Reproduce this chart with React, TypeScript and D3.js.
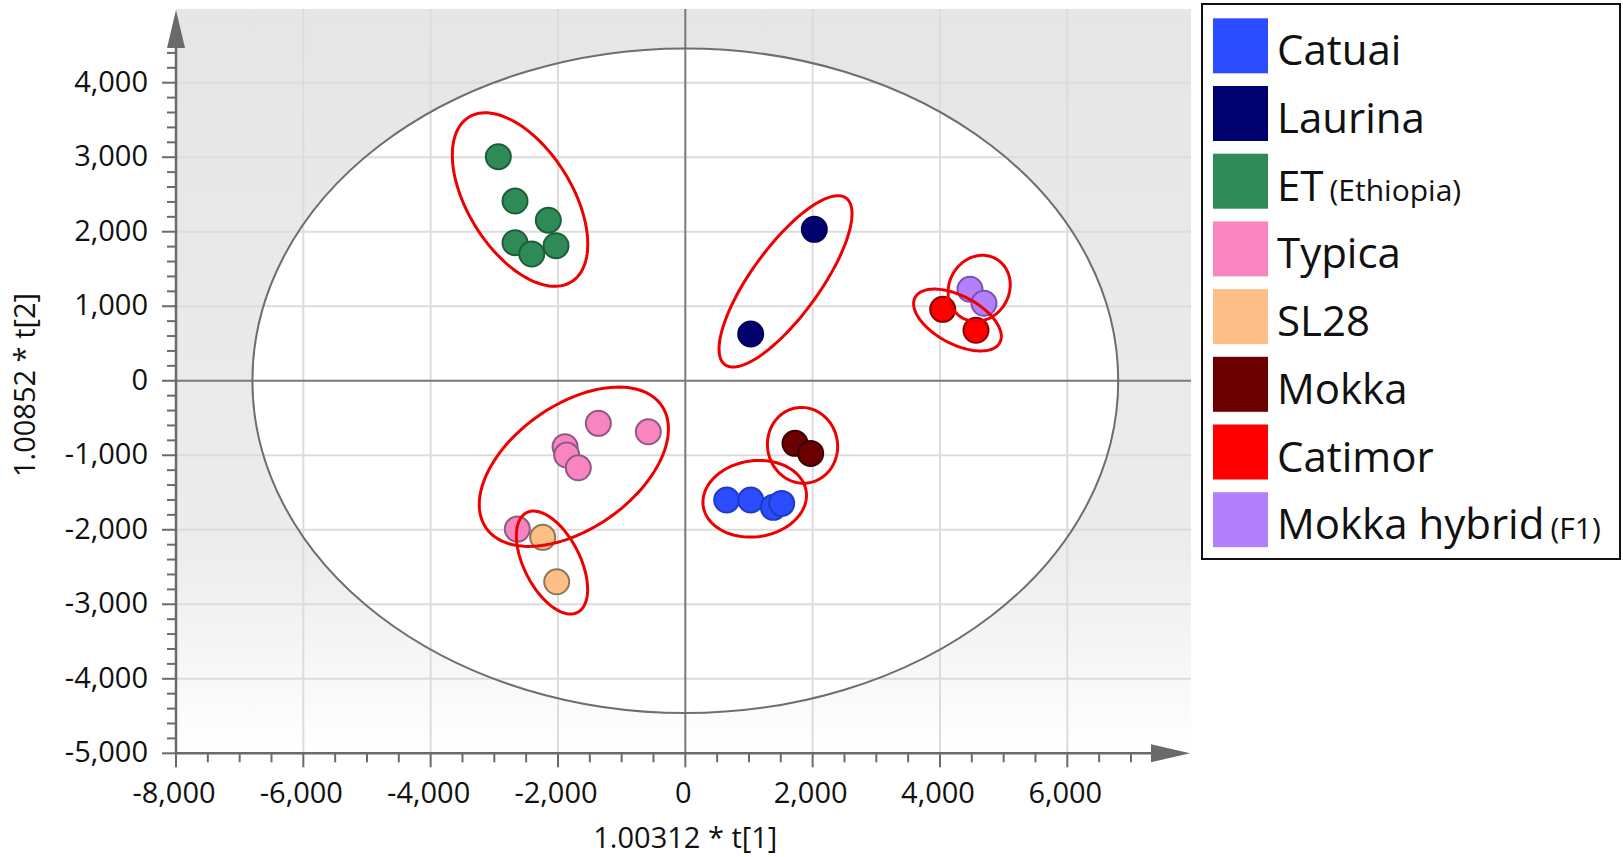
import React from "react";
import * as d3 from "d3";

// ---------- data ----------
const groupNames = ["Catuai", "Laurina", "ET", "Typica", "SL28", "Mokka", "Catimor", "Mokka hybrid"];
const groupSuffix = ["", "", "(Ethiopia)", "", "", "", "", "(F1)"];
const groupFill = ["#2b4cff", "#00006e", "#2e8b57", "#f884c0", "#fdbf87", "#6b0000", "#ff0000", "#b47ffb"];
const groupStroke = ["#1f3bc8", "#00005a", "#1f5c3a", "#8e5a85", "#8f7656", "#3d0000", "#8b0000", "#7a52b5"];

const catuaiX = [650, 1027, 1382, 1514];
const catuaiY = [-1601, -1601, -1699, -1646];
const laurinaX = [2026, 1027];
const laurinaY = [2032, 627];
const etX = [-2937, -2675, -2152, -2675, -2412, -2031];
const etY = [3007, 2412, 2155, 1852, 1701, 1812];
const typicaX = [-1366, -581, -1889, -1863, -1681, -2639];
const typicaY = [-572, -685, -886, -997, -1168, -1991];
const sl28X = [-2240, -2020];
const sl28Y = [-2102, -2698];
const mokkaX = [1723, 1969];
const mokkaY = [-840, -975];
const catimorX = [4043, 4566];
const catimorY = [958, 677];
const hybridX = [4471, 4691];
const hybridY = [1227, 1039];

const seriesX = [catuaiX, laurinaX, etX, typicaX, sl28X, mokkaX, catimorX, hybridX];
const seriesY = [catuaiY, laurinaY, etY, typicaY, sl28Y, mokkaY, catimorY, hybridY];

// group-outline ellipses: centre (data units), semi-axes (px), rotation (deg)
const clusterCx = [-2596, -1751, -2094, 1574, 4616, 4275, 1841, 1090];
const clusterCy = [2432, -1154, -2440, 1334, 1240, 815, -867, -1584];
const clusterA = [97, 107, 56, 103, 34, 48, 38, 52];
const clusterB = [52, 62, 28, 34, 30, 24, 35, 38];
const clusterAngle = [58, -35, 63, -54, -60, 28, 80, -8];

// Hotelling T2 ellipse semi-axes (data units)
const t2X = 6800;
const t2Y = 4460;

const xTickValues = [-8000, -6000, -4000, -2000, 0, 2000, 4000, 6000];
const yTickValues = [-5000, -4000, -3000, -2000, -1000, 0, 1000, 2000, 3000, 4000];

// ---------- layout ----------
const W = 1623;
const H = 857;
const x = d3.scaleLinear().domain([-8000, 6000]).range([176, 1067.3]);
const y = d3.scaleLinear().domain([-5000, 4000]).range([753.3, 82.7]);
const fmt0 = d3.format(",");
const fmt = (v: number) => fmt0(v).replace("\u2212", "-");

const plotLeft = x(-8000);
const plotRight = 1191;
const plotTop = 9;
const plotBottom = y(-5000);

function ellipsePath(cx: number, cy: number, a: number, b: number, angDeg: number) {
  const th = (angDeg * Math.PI) / 180;
  const pts: [number, number][] = d3.range(0, 361, 3).map((t) => {
    const r = (t * Math.PI) / 180;
    const ex = a * Math.cos(r);
    const ey = b * Math.sin(r);
    return [cx + ex * Math.cos(th) - ey * Math.sin(th), cy + ex * Math.sin(th) + ey * Math.cos(th)];
  });
  return d3.line()(pts) + "Z";
}

const FONT = "'Open Sans', 'Noto Sans', sans-serif";

export default function App() {
  const xMinor = d3.range(-8000, 7001, 500);
  const yMinor = d3.range(-5000, 4401, 200);
  const axisColor = "#6a6a6a";

  return (
    <svg
      width={W}
      height={H}
      style={{ position: "absolute", left: 0, top: 0, background: "#fff" }}
      fontFamily={FONT}
    >
      <defs>
        <linearGradient id="bg" x1="0" y1="0" x2="0" y2="1">
          <stop offset="0" stopColor="#e6e6e6" />
          <stop offset="0.72" stopColor="#ececec" />
          <stop offset="1" stopColor="#ffffff" />
        </linearGradient>
      </defs>
      <rect x={plotLeft} y={plotTop} width={plotRight - plotLeft} height={plotBottom - plotTop} fill="url(#bg)" />
      {/* Hotelling ellipse fill */}
      <ellipse cx={x(0)} cy={y(0)} rx={x(t2X) - x(0)} ry={y(0) - y(t2Y)} fill="#ffffff" />
      {/* grid */}
      {xTickValues.filter((v) => v !== -8000 && v !== 0).map((v) => (
        <line key={"gx" + v} x1={x(v)} x2={x(v)} y1={plotTop} y2={plotBottom} stroke="#dcdcdc" strokeWidth={2} />
      ))}
      {yTickValues.filter((v) => v !== -5000 && v !== 0).map((v) => (
        <line key={"gy" + v} x1={plotLeft} x2={plotRight} y1={y(v)} y2={y(v)} stroke="#dcdcdc" strokeWidth={2} />
      ))}
      {/* zero lines */}
      <line x1={x(0)} x2={x(0)} y1={plotTop} y2={plotBottom} stroke="#7a7a7a" strokeWidth={2} />
      <line x1={plotLeft} x2={plotRight} y1={y(0)} y2={y(0)} stroke="#7a7a7a" strokeWidth={2} />
      {/* Hotelling ellipse outline */}
      <ellipse
        cx={x(0)}
        cy={y(0)}
        rx={x(t2X) - x(0)}
        ry={y(0) - y(t2Y)}
        fill="none"
        stroke="#6e6e6e"
        strokeWidth={2}
      />
      {/* points */}
      {seriesX.map((xs, gi) =>
        xs.map((xv, i) => (
          <circle
            key={gi + "-" + i}
            cx={x(xv)}
            cy={y(seriesY[gi][i])}
            r={12.5}
            fill={groupFill[gi]}
            stroke={groupStroke[gi]}
            strokeWidth={2}
          />
        ))
      )}
      {/* cluster ellipses */}
      {clusterCx.map((cx, i) => (
        <path
          key={"ce" + i}
          d={ellipsePath(x(cx), y(clusterCy[i]), clusterA[i], clusterB[i], clusterAngle[i])}
          fill="none"
          stroke="#ee0000"
          strokeWidth={3}
        />
      ))}
      {/* y axis */}
      <line x1={plotLeft} x2={plotLeft} y1={plotBottom} y2={46} stroke={axisColor} strokeWidth={2.5} />
      <path d={`M${plotLeft},10 L${plotLeft - 9},48 L${plotLeft + 9},48 Z`} fill={axisColor} />
      {yMinor.map((v) => (
        <line key={"ym" + v} x1={plotLeft - (v % 1000 === 0 ? 14 : 9)} x2={plotLeft} y1={y(v)} y2={y(v)} stroke={axisColor} strokeWidth={2} />
      ))}
      {yTickValues.map((v) => (
        <text key={"yl" + v} x={148} y={y(v) + 9} textAnchor="end" fontSize={29} fill="#111">
          {fmt(v)}
        </text>
      ))}
      {/* x axis */}
      <line x1={plotLeft} x2={1152} y1={plotBottom} y2={plotBottom} stroke={axisColor} strokeWidth={2.5} />
      <path d={`M1190,${plotBottom} L1151,${plotBottom - 9} L1151,${plotBottom + 9} Z`} fill={axisColor} />
      {xMinor.map((v) => (
        <line key={"xm" + v} x1={x(v)} x2={x(v)} y1={plotBottom} y2={plotBottom + (v % 2000 === 0 ? 14 : 9)} stroke={axisColor} strokeWidth={2} />
      ))}
      {xTickValues.map((v) => (
        <text key={"xl" + v} x={x(v) - 2} y={803} textAnchor="middle" fontSize={29} fill="#111">
          {fmt(v)}
        </text>
      ))}
      {/* axis titles */}
      <text x={x(0)} y={848} textAnchor="middle" fontSize={29} fill="#111">
        1.00312 * t[1]
      </text>
      <text x={35} y={385} textAnchor="middle" fontSize={29} fill="#111" transform="rotate(-90, 35, 385)">
        1.00852 * t[2]
      </text>
      {/* legend */}
      <rect x={1202} y={4} width={418} height={555} fill="#fff" stroke="#111" strokeWidth={2} />
      {groupNames.map((g, i) => {
        const top = 18.3 + i * 67.7;
        return (
          <g key={"lg" + g}>
            <rect x={1213} y={top} width={55} height={55} fill={groupFill[i]} />
            <text x={1277} y={top + 47} fontSize={42} fill="#111">
              {g}
              {groupSuffix[i] ? (
                <tspan fontSize={30} dx={6}>
                  {groupSuffix[i]}
                </tspan>
              ) : null}
            </text>
          </g>
        );
      })}
    </svg>
  );
}
